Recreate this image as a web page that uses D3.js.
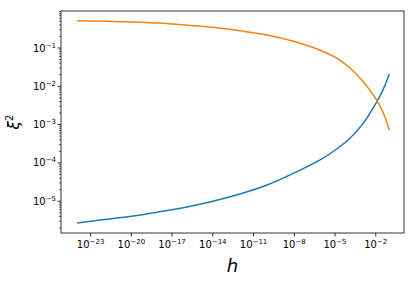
<html>
<head>
<meta charset="utf-8">
<script src="https://cdnjs.cloudflare.com/ajax/libs/d3/7.8.5/d3.min.js"></script>
<style>
  body { margin: 0; background: #fff; }
  text { font-family: "DejaVu Sans", sans-serif; }
</style>
</head>
<body>
<script>
  // data (log-log)
  var hValues = [1e-24, 1e-22, 1e-20, 1e-18, 1e-16, 1e-14, 1e-12, 1e-10, 1e-8, 1e-6, 1e-5, 1e-4, 1e-3, 1e-2, 3.16e-2, 1e-1];
  var blueValues = [2.69e-6, 3.31e-6, 4.07e-6, 5.25e-6, 7.0e-6, 1.0e-5, 1.55e-5, 2.66e-5, 5.50e-5, 1.26e-4, 2.14e-4, 4.07e-4, 1.0e-3, 3.55e-3, 7.59e-3, 2.09e-2];
  var orangeValues = [0.516, 0.501, 0.479, 0.447, 0.398, 0.347, 0.282, 0.219, 0.148, 0.0851, 0.0575, 0.0324, 0.0141, 4.79e-3, 2.24e-3, 7.24e-4];
  var xTickExps = [-23, -20, -17, -14, -11, -8, -5, -2];
  var yTickExps = [-5, -4, -3, -2, -1];

  var w = 415, h = 282;
  var plotLeft = 61, plotRight = 404, plotTop = 11, plotBottom = 233;

  var svg = d3.select("body").append("svg")
    .attr("width", w).attr("height", h);

  var x = d3.scaleLog().domain([Math.pow(10, -25.18), Math.pow(10, 0.08)]).range([plotLeft, plotRight]);
  var y = d3.scaleLog().domain([Math.pow(10, -5.83), Math.pow(10, -0.034)]).range([plotBottom, plotTop]);

  // lines
  var line = function(vals) {
    return d3.line()
      .x(function(d, i) { return x(hValues[i]); })
      .y(function(d) { return y(d); })
      .curve(d3.curveCatmullRom.alpha(0.5))(vals);
  };
  svg.append("path").attr("d", line(blueValues))
    .attr("fill", "none").attr("stroke", "#1f77b4").attr("stroke-width", 1.5);
  svg.append("path").attr("d", line(orangeValues))
    .attr("fill", "none").attr("stroke", "#ff7f0e").attr("stroke-width", 1.5);

  // frame
  svg.append("rect")
    .attr("x", plotLeft).attr("y", plotTop)
    .attr("width", plotRight - plotLeft).attr("height", plotBottom - plotTop)
    .attr("fill", "none").attr("stroke", "#000").attr("stroke-width", 0.8);

  // x ticks
  xTickExps.forEach(function(e) {
    var px = x(Math.pow(10, e));
    svg.append("line").attr("x1", px).attr("x2", px)
      .attr("y1", plotBottom).attr("y2", plotBottom + 3.5)
      .attr("stroke", "#000").attr("stroke-width", 0.8);
    var t = svg.append("text").attr("x", px).attr("y", plotBottom + 15)
      .attr("text-anchor", "middle").attr("font-size", "10px");
    t.append("tspan").text("10");
    t.append("tspan").attr("dy", -4).attr("font-size", "7px").text("\u2212" + (-e));
  });

  // y major ticks
  yTickExps.forEach(function(e) {
    var py = y(Math.pow(10, e));
    svg.append("line").attr("x1", plotLeft - 3.5).attr("x2", plotLeft)
      .attr("y1", py).attr("y2", py)
      .attr("stroke", "#000").attr("stroke-width", 0.8);
    var t = svg.append("text").attr("x", plotLeft - 5).attr("y", py + 3.5)
      .attr("text-anchor", "end").attr("font-size", "10px");
    t.append("tspan").text("10");
    t.append("tspan").attr("dy", -4).attr("font-size", "7px").text("\u2212" + (-e));
  });

  // y minor ticks
  var yd = y.domain();
  for (var e = -6; e <= -1; e++) {
    for (var k = 2; k <= 9; k++) {
      var v = k * Math.pow(10, e);
      if (v < yd[0] || v > yd[1]) continue;
      var py = y(v);
      svg.append("line").attr("x1", plotLeft - 2).attr("x2", plotLeft)
        .attr("y1", py).attr("y2", py)
        .attr("stroke", "#000").attr("stroke-width", 0.6);
    }
  }

  // axis labels
  svg.append("text").attr("x", (plotLeft + plotRight) / 2).attr("y", 272)
    .attr("text-anchor", "middle").attr("font-size", "18px")
    .attr("font-style", "italic").text("h");
  var yl = svg.append("text")
    .attr("transform", "translate(19," + (plotTop + plotBottom) / 2 + ") rotate(-90)")
    .attr("text-anchor", "middle").attr("font-size", "15px");
  yl.append("tspan").attr("font-style", "italic").text("\u03be");
  yl.append("tspan").attr("dy", -6).attr("font-size", "10px").text("2");
</script>
</body>
</html>
